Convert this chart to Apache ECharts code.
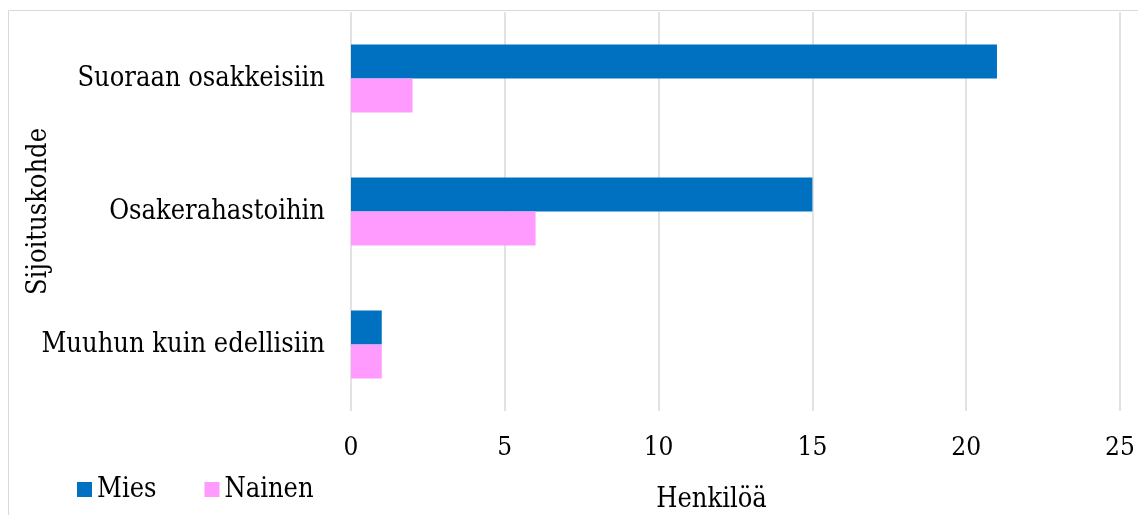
<!DOCTYPE html>
<html><head><meta charset="utf-8">
<script src="https://cdn.jsdelivr.net/npm/echarts@6/dist/echarts.min.js"></script>
<style>html,body{margin:0;padding:0;background:#fff}#c{width:1138px;height:515px}</style>
</head><body><div id="c"></div>
<script>
const categories = ['Muuhun kuin edellisiin', 'Osakerahastoihin', 'Suoraan osakkeisiin'];
const mies = [1, 15, 21];
const nainen = [1, 6, 2];
const xTicks = [0, 5, 10, 15, 20, 25];
const FONT = '"DejaVu Serif Condensed", "DejaVu Serif", serif';
const FS = 27;
const chart = echarts.init(document.getElementById('c'));
chart.setOption({
  animation: false,
  textStyle: { fontFamily: FONT },
  graphic: [{ type: 'rect', shape: { x: 8.5, y: 10.5, width: 1140, height: 520 }, style: { fill: 'none', stroke: '#d9d9d9', lineWidth: 1 } }],
  grid: { left: 351, right: 18, top: 12, bottom: 104, outerBoundsMode: 'none', containLabel: false },
  legend: {
    left: 72, top: 471, itemWidth: 15, itemHeight: 15, itemGap: 48,
    icon: 'rect',
    textStyle: { fontFamily: FONT, fontSize: FS, color: '#000' },
    data: ['Mies', 'Nainen']
  },
  xAxis: {
    type: 'value', min: xTicks[0], max: xTicks[xTicks.length - 1], interval: 5,
    name: 'Henkilöä', nameLocation: 'middle', nameGap: 75, nameMoveOverlap: false,
    nameTextStyle: { fontFamily: FONT, fontSize: FS, color: '#000', padding: [0, 48, 0, 0] },
    axisLine: { show: false }, axisTick: { show: false },
    axisLabel: { fontFamily: FONT, fontSize: 26, color: '#000', margin: 24 },
    splitLine: { lineStyle: { color: '#d9d9d9', width: 1.5 } }
  },
  yAxis: {
    type: 'category', data: categories,
    name: 'Sijoituskohde', nameLocation: 'middle', nameGap: 299, nameMoveOverlap: false,
    nameTextStyle: { fontFamily: FONT, fontSize: FS, color: '#000' },
    axisLine: { show: false }, axisTick: { show: false },
    axisLabel: { fontFamily: FONT, fontSize: FS, color: '#000', margin: 26 }
  },
  series: [
    { name: 'Mies', type: 'bar', data: mies, itemStyle: { color: '#0070C0' }, barGap: '0%', barCategoryGap: '49%' },
    { name: 'Nainen', type: 'bar', data: nainen, itemStyle: { color: '#FF9BFF' }, barGap: '0%', barCategoryGap: '49%' }
  ]
});
</script></body></html>
